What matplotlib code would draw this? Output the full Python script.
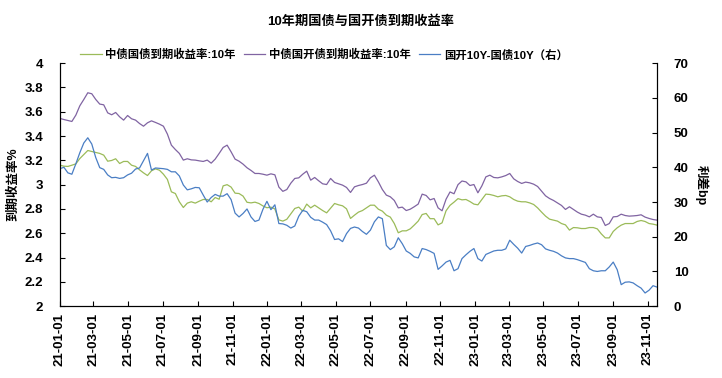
import pandas as pd
import matplotlib
matplotlib.use('Agg')
import matplotlib.pyplot as plt
import matplotlib.dates as mdates
from matplotlib.ticker import MultipleLocator, FuncFormatter

plt.rcParams['font.family'] = ['Liberation Sans', 'Noto Sans CJK SC', 'DejaVu Sans']
plt.rcParams['font.weight'] = 'bold'
plt.rcParams['axes.unicode_minus'] = False

# weekly observations, 2021-01-01 .. 2023-11-17
dates = pd.date_range('2021-01-01', periods=151, freq='7D')

# 中债国债到期收益率:10年 (%)
gov_10y = [
    3.160, 3.152, 3.150, 3.160, 3.171, 3.215, 3.248, 3.281, 3.273, 3.265,
    3.257, 3.243, 3.193, 3.199, 3.213, 3.174, 3.191, 3.191, 3.160, 3.150,
    3.122, 3.097, 3.075, 3.114, 3.130, 3.119, 3.086, 3.043, 2.941, 2.927,
    2.859, 2.812, 2.848, 2.859, 2.848, 2.864, 2.878, 2.878, 2.859, 2.894,
    2.880, 2.990, 3.000, 2.980, 2.930, 2.927, 2.906, 2.855, 2.850, 2.856,
    2.845, 2.825, 2.810, 2.815, 2.800, 2.710, 2.700, 2.715, 2.760, 2.804,
    2.815, 2.782, 2.840, 2.809, 2.831, 2.809, 2.787, 2.768, 2.807, 2.845,
    2.834, 2.826, 2.801, 2.722, 2.749, 2.774, 2.787, 2.809, 2.831, 2.831,
    2.798, 2.782, 2.749, 2.733, 2.680, 2.604, 2.620, 2.620, 2.636, 2.667,
    2.700, 2.754, 2.763, 2.720, 2.720, 2.669, 2.686, 2.785, 2.830, 2.856,
    2.885, 2.875, 2.878, 2.861, 2.840, 2.834, 2.878, 2.922, 2.919, 2.911,
    2.900, 2.908, 2.911, 2.900, 2.878, 2.864, 2.859, 2.859, 2.850, 2.837,
    2.809, 2.774, 2.741, 2.716, 2.708, 2.700, 2.680, 2.669, 2.626, 2.647,
    2.645, 2.639, 2.639, 2.647, 2.647, 2.636, 2.595, 2.562, 2.562, 2.615,
    2.645, 2.667, 2.680, 2.680, 2.680, 2.697, 2.705, 2.697, 2.680, 2.675,
    2.667,
]

# 中债国开债到期收益率:10年 (%)
cdb_10y = [
    3.545, 3.536, 3.528, 3.520, 3.572, 3.649, 3.701, 3.756, 3.748, 3.701,
    3.663, 3.657, 3.591, 3.575, 3.594, 3.558, 3.531, 3.569, 3.542, 3.531,
    3.503, 3.481, 3.509, 3.525, 3.512, 3.498, 3.481, 3.416, 3.325, 3.289,
    3.257, 3.202, 3.213, 3.204, 3.202, 3.196, 3.191, 3.202, 3.177, 3.210,
    3.257, 3.306, 3.325, 3.270, 3.210, 3.193, 3.169, 3.139, 3.117, 3.092,
    3.092, 3.086, 3.078, 3.089, 3.081, 2.980, 2.945, 2.960, 3.012, 3.051,
    3.056, 3.086, 3.111, 3.037, 3.059, 3.032, 3.007, 3.001, 3.051, 3.018,
    3.007, 2.996, 2.977, 2.936, 2.982, 2.993, 3.001, 3.012, 3.056, 3.078,
    3.023, 2.960, 2.914, 2.900, 2.870, 2.809, 2.815, 2.787, 2.798, 2.818,
    2.840, 2.922, 2.911, 2.875, 2.886, 2.809, 2.785, 2.880, 2.940, 2.925,
    3.000, 3.030, 3.023, 2.993, 3.001, 2.933, 2.990, 3.064, 3.078, 3.059,
    3.056, 3.064, 3.075, 3.092, 3.048, 3.026, 3.010, 3.021, 3.015, 3.004,
    2.985, 2.947, 2.908, 2.886, 2.870, 2.850, 2.829, 2.796, 2.818, 2.796,
    2.774, 2.757, 2.749, 2.735, 2.757, 2.735, 2.730, 2.664, 2.680, 2.735,
    2.738, 2.757, 2.746, 2.741, 2.743, 2.746, 2.752, 2.733, 2.722, 2.713,
    2.708,
]

# 国开10Y-国债10Y (bp, right axis)
spread_bp = [
    39.6, 40.0, 38.4, 38.0, 41.0, 44.2, 47.0, 48.5, 46.7, 42.8,
    39.9, 39.4, 37.8, 37.0, 37.1, 36.8, 37.0, 37.8, 38.3, 39.5,
    39.8, 41.9, 44.0, 39.2, 39.8, 39.7, 39.6, 39.4, 38.7, 38.7,
    37.5, 34.9, 33.5, 33.8, 34.2, 34.1, 32.0, 30.0, 31.3, 32.2,
    31.7, 31.7, 32.4, 30.7, 26.8, 25.7, 26.7, 28.0, 25.7, 24.4,
    24.8, 27.9, 30.2, 27.8, 29.2, 23.8, 23.7, 23.3, 22.5, 23.1,
    25.9, 27.6, 27.2, 25.6, 24.8, 24.8, 24.2, 23.5, 21.7, 19.2,
    19.4, 18.6, 20.9, 22.4, 22.8, 22.5, 21.5, 20.7, 21.9, 24.3,
    25.7, 25.2, 17.5, 16.3, 17.1, 19.7, 18.0, 15.9, 15.2, 14.2,
    13.9, 16.6, 16.3, 15.8, 15.2, 10.6, 11.6, 12.7, 13.2, 10.2,
    10.8, 13.7, 14.8, 15.8, 16.6, 13.7, 13.0, 14.9, 15.4, 15.9,
    16.1, 16.1, 16.5, 19.0, 17.8, 16.7, 15.3, 17.2, 17.5, 17.9,
    18.2, 17.7, 16.5, 16.1, 15.8, 15.3, 14.5, 13.9, 13.7, 13.7,
    13.4, 13.0, 12.6, 10.8, 10.2, 10.0, 10.2, 10.2, 11.3, 12.7,
    10.5, 6.2, 6.9, 7.0, 6.7, 5.9, 5.2, 3.8, 4.6, 5.9,
    5.5,
]

labels = ['中债国债到期收益率:10年', '中债国开债到期收益率:10年', '国开10Y-国债10Y（右）']
colors = ['#9bbb59', '#8064a2', '#4a7ec4']

fig = plt.figure(figsize=(7.22, 3.78), dpi=100)
ax = fig.add_axes([0.083, 0.19, 0.827, 0.643])
ax2 = ax.twinx()

l1, = ax.plot(dates, gov_10y, color=colors[0], lw=0.9)
l2, = ax.plot(dates, cdb_10y, color=colors[1], lw=0.9)
l3, = ax2.plot(dates, spread_bp, color=colors[2], lw=0.9)

ax.set_xlim(dates[0], dates[-1])
ax.set_ylim(2, 4)
ax2.set_ylim(0, 70)
ax.yaxis.set_major_locator(MultipleLocator(0.2))
ax.yaxis.set_major_formatter(FuncFormatter(lambda v, p: f'{round(v, 1):g}'))
ax2.yaxis.set_major_locator(MultipleLocator(10))

ax.xaxis.set_major_locator(mdates.MonthLocator(bymonth=[1, 3, 5, 7, 9, 11]))
ax.xaxis.set_major_formatter(mdates.DateFormatter('%y-%m-%d'))

for a in (ax, ax2):
    a.spines['top'].set_visible(False)
    for s in ('left', 'right', 'bottom'):
        a.spines[s].set_color('black')
        a.spines[s].set_linewidth(0.8)
    a.tick_params(direction='in', length=3.5, width=0.8, labelsize=9.5)
ax.tick_params(axis='x', labelrotation=90, labelsize=9.5, pad=5)
ax.tick_params(axis='y', pad=12)
ax2.tick_params(axis='y', pad=12)

ax.set_ylabel('到期收益率%', fontsize=9, fontweight='bold', labelpad=4)
ax2.set_ylabel('利差bp', fontsize=9, fontweight='bold', rotation=270, labelpad=14)

fig.suptitle('10年期国债与国开债到期收益率', x=0.5, y=0.96, fontsize=9.5, fontweight='bold')
fig.legend([l1, l2, l3], labels, loc='center left', bbox_to_anchor=(0.097, 0.855),
           ncol=3, frameon=False, fontsize=8.2, handlelength=1.9, handletextpad=0.3,
           columnspacing=0.7)

plt.savefig('out.png', dpi=100)
